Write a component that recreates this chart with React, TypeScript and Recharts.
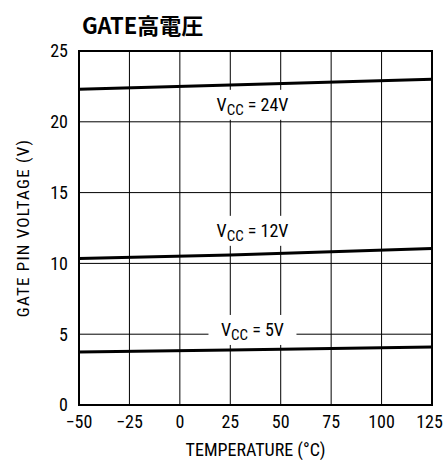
import { LineChart, Line, CartesianGrid, XAxis, YAxis, ReferenceArea, ReferenceDot } from 'recharts'

const FONT = '"Liberation Sans Narrow", "Roboto Condensed", "Arial Narrow", "Liberation Sans", sans-serif'
const CJK = '"Liberation Sans Narrow", "Noto Sans CJK JP", sans-serif'

// temperature (°C) and gate pin voltage
const temps = [-50, 25, 125]
const vcc24 = [22.3, 22.6, 23.0]
const vcc12 = [10.35, 10.6, 11.05]
const vcc5 = [3.74, 3.88, 4.1]

const xTicks = [-50, -25, 0, 25, 50, 75, 100, 125]
const yTicks = [0, 5, 10, 15, 20, 25]

// curve labels: position in data coords + supply value
const labelTemps = [36, 36, 36]
const labelVolts = [21.2, 12.3, 5.3]
const labelTexts = ['24V', '12V', '5V']

const chartData = temps.map((t, i) => ({ t, v24: vcc24[i], v12: vcc12[i], v5: vcc5[i] }))

const fmt = (v: number) => (v < 0 ? `\u2212${Math.abs(v)}` : `${v}`)

function VccLabel({ viewBox, text }: { viewBox?: { x: number; y: number }; text: string }) {
  if (!viewBox) return null
  const { x, y } = viewBox
  return (
    <g>
      <rect x={x - 44} y={y - 15} width={88} height={30} fill="#fff" />
      <text x={x} y={y + 6} textAnchor="middle" fontFamily={FONT} fontSize={18} fill="#000">
        V<tspan fontSize={15} dy={4}>CC</tspan>
        <tspan dy={-4}>{` = ${text}`}</tspan>
      </text>
    </g>
  )
}

export default function App() {
  return (
    <div style={{ position: 'absolute', left: 0, top: 0, width: 443, height: 460, background: '#fff' }}>
      <div
        style={{
          position: 'absolute',
          left: 82,
          top: 8,
          fontFamily: CJK,
          fontWeight: 'bold',
          fontSize: 22,
          color: '#000',
        }}
      >
        GATE高電圧
      </div>
      <LineChart width={443} height={460} data={chartData} margin={{ top: 51, right: 11, bottom: 0, left: 19 }}>
        <CartesianGrid stroke="#000" strokeWidth={1} />
        <XAxis
          dataKey="t"
          type="number"
          domain={[-50, 125]}
          ticks={xTicks}
          tickFormatter={fmt}
          axisLine={false}
          tickLine={false}
          tickSize={6}
          tickMargin={4}
          height={55}
          tick={{ fontFamily: FONT, fontSize: 18, fill: '#000' }}
          label={{
            value: 'TEMPERATURE (°C)',
            position: 'insideBottom',
            offset: 4,
            style: { fontFamily: FONT, fontSize: 18, fill: '#000' },
          }}
        />
        <YAxis
          type="number"
          domain={[0, 25]}
          ticks={yTicks}
          axisLine={false}
          tickLine={false}
          tickSize={6}
          tickMargin={5}
          width={60}
          tick={{ fontFamily: FONT, fontSize: 18, fill: '#000' }}
          label={{
            value: 'GATE PIN VOLTAGE (V)',
            angle: -90,
            position: 'insideLeft',
            offset: 4,
            style: { fontFamily: FONT, fontSize: 17, letterSpacing: 1.2, fill: '#000', textAnchor: 'middle' },
          }}
        />
        <ReferenceArea x1={-50} x2={125} y1={0} y2={25} fill="none" stroke="#000" strokeWidth={2} />
        {labelTexts.map((txt, i) => (
          <ReferenceDot
            key={txt}
            x={labelTemps[i]}
            y={labelVolts[i]}
            r={0}
            fill="none"
            stroke="none"
            label={<VccLabel text={txt} />}
          />
        ))}
        <Line dataKey="v24" stroke="#000" strokeWidth={3} dot={false} isAnimationActive={false} />
        <Line dataKey="v12" stroke="#000" strokeWidth={3} dot={false} isAnimationActive={false} />
        <Line dataKey="v5" stroke="#000" strokeWidth={3} dot={false} isAnimationActive={false} />
      </LineChart>
    </div>
  )
}
